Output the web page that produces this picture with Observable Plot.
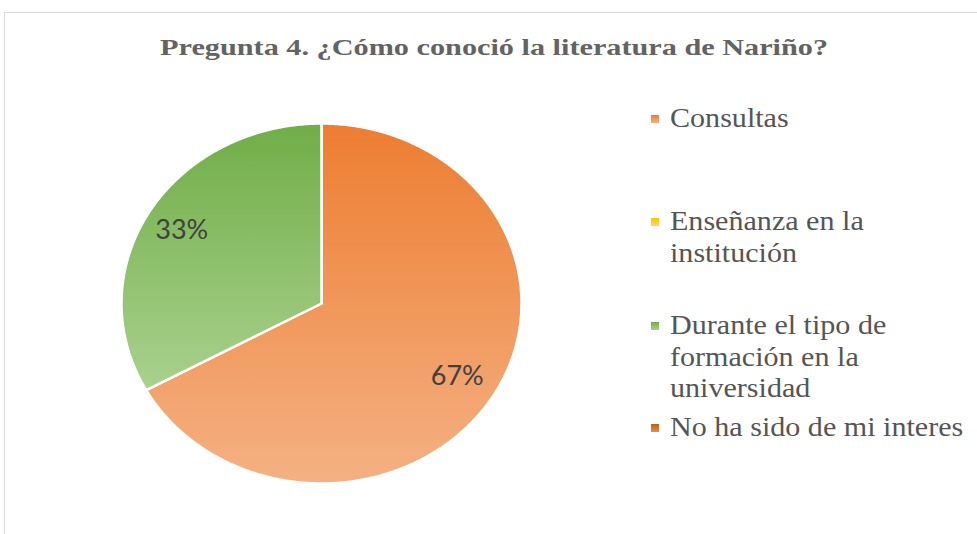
<!DOCTYPE html>
<html>
<head>
<meta charset="utf-8">
<script src="https://cdn.jsdelivr.net/npm/d3@7"></script>
<script src="https://cdn.jsdelivr.net/npm/@observablehq/plot@0.6"></script>
<style>
  html, body { margin: 0; padding: 0; background: #fff; }
  #page { position: relative; width: 977px; height: 534px; overflow: hidden; }
  #frame { position: absolute; left: 4px; top: 12px; width: 1000px; height: 600px;
           border-top: 1.5px solid #d9d9d9; border-left: 1.5px solid #d9d9d9; }
  #title { position: absolute; left: 0; top: 30px; width: 988px; text-align: center;
           font-family: "Liberation Serif", serif; font-weight: bold; font-size: 24px;
           color: #636363; line-height: 34px; }
  #title span { display: inline-block; transform: scaleX(1.26); transform-origin: center; }
  #chart { position: absolute; left: 0; top: 80px; }
  #legend { position: absolute; left: 651px; top: 0; width: 326px;
            font-family: "Liberation Serif", serif; font-size: 27px; color: #555;
            line-height: 31.5px; }
  .item { position: absolute; left: 0; display: flex; align-items: flex-start; }
  .sw { width: 8px; height: 8px; margin-top: 12px; margin-right: 11px; flex: none; }
  .txt { width: 272px; transform: scaleX(1.114); transform-origin: left top; }
</style>
</head>
<body>
<div id="page">
  <div id="frame"></div>
  <div id="title"><span></span></div>
  <div id="chart"></div>
  <div id="legend"></div>
</div>
<script>
// ---- data ----
const title = "Pregunta 4. ¿Cómo conoció la literatura de Nariño?";
const categories = ["Consultas", "Enseñanza en la institución", "Durante el tipo de formación en la universidad", "No ha sido de mi interes"];
const values = [67, 0, 33, 0];
const gradTop = ["#ED7D31", "#FFC000", "#70AD47", "#C55A11"];
const gradBottom = ["#F4B183", "#FFD966", "#A9D18E", "#E48D4F"];

// ---- slices ----
const total = d3.sum(values);
const arcs = d3.pie().sort(null).value(d => d)(values);
const pts = [];
const labels = [];
arcs.forEach((a, i) => {
  if (a.value <= 0) return;
  const key = categories[i];
  pts.push({key, x: 0, y: 0});
  const n = Math.max(2, Math.ceil((a.endAngle - a.startAngle) / 0.01));
  for (let k = 0; k <= n; k++) {
    const t = a.startAngle + (a.endAngle - a.startAngle) * k / n;
    pts.push({key, x: Math.sin(t), y: Math.cos(t)});
  }
  pts.push({key, x: 0, y: 0});
  const m = (a.startAngle + a.endAngle) / 2;
  labels.push({x: 0.8 * Math.sin(m), y: 0.8 * Math.cos(m), text: d3.format(".0%")(a.value / total)});
});

const chart = Plot.plot({
  width: 640,
  height: 454,
  margin: 0,
  x: {domain: [-1, 1], range: [121, 521], axis: null},
  y: {domain: [-1, 1], range: [403, 43], axis: null},
  color: {domain: categories, range: categories.map((c, i) => `url(#g${i})`)},
  marks: [
    Plot.line(pts, {x: "x", y: "y", z: "key", fill: "key", stroke: "white", strokeWidth: 2.5, strokeLinejoin: "round", curve: "linear"}),
    Plot.text(labels, {x: "x", y: "y", dx: -2, text: "text", fontSize: 27, fill: "#404040", fontFamily: "Lato, sans-serif"})
  ]
});
const defs = categories.map((c, i) =>
  `<linearGradient id="g${i}" x1="0" y1="0" x2="0" y2="1"><stop offset="0" stop-color="${gradTop[i]}"/><stop offset="1" stop-color="${gradBottom[i]}"/></linearGradient>`).join("");
chart.insertAdjacentHTML("afterbegin", `<defs>${defs}</defs>`);
document.getElementById("chart").appendChild(chart);

document.querySelector("#title span").textContent = title;

const tops = [103, 206, 310, 412];
const legend = document.getElementById("legend");
categories.forEach((c, i) => {
  const item = document.createElement("div");
  item.className = "item";
  item.style.top = tops[i] + "px";
  const sw = document.createElement("div");
  sw.className = "sw";
  sw.style.background = `linear-gradient(${gradTop[i]}, ${gradBottom[i]})`;
  const tx = document.createElement("div");
  tx.className = "txt";
  tx.textContent = c;
  item.appendChild(sw);
  item.appendChild(tx);
  legend.appendChild(item);
});
</script>
</body>
</html>
